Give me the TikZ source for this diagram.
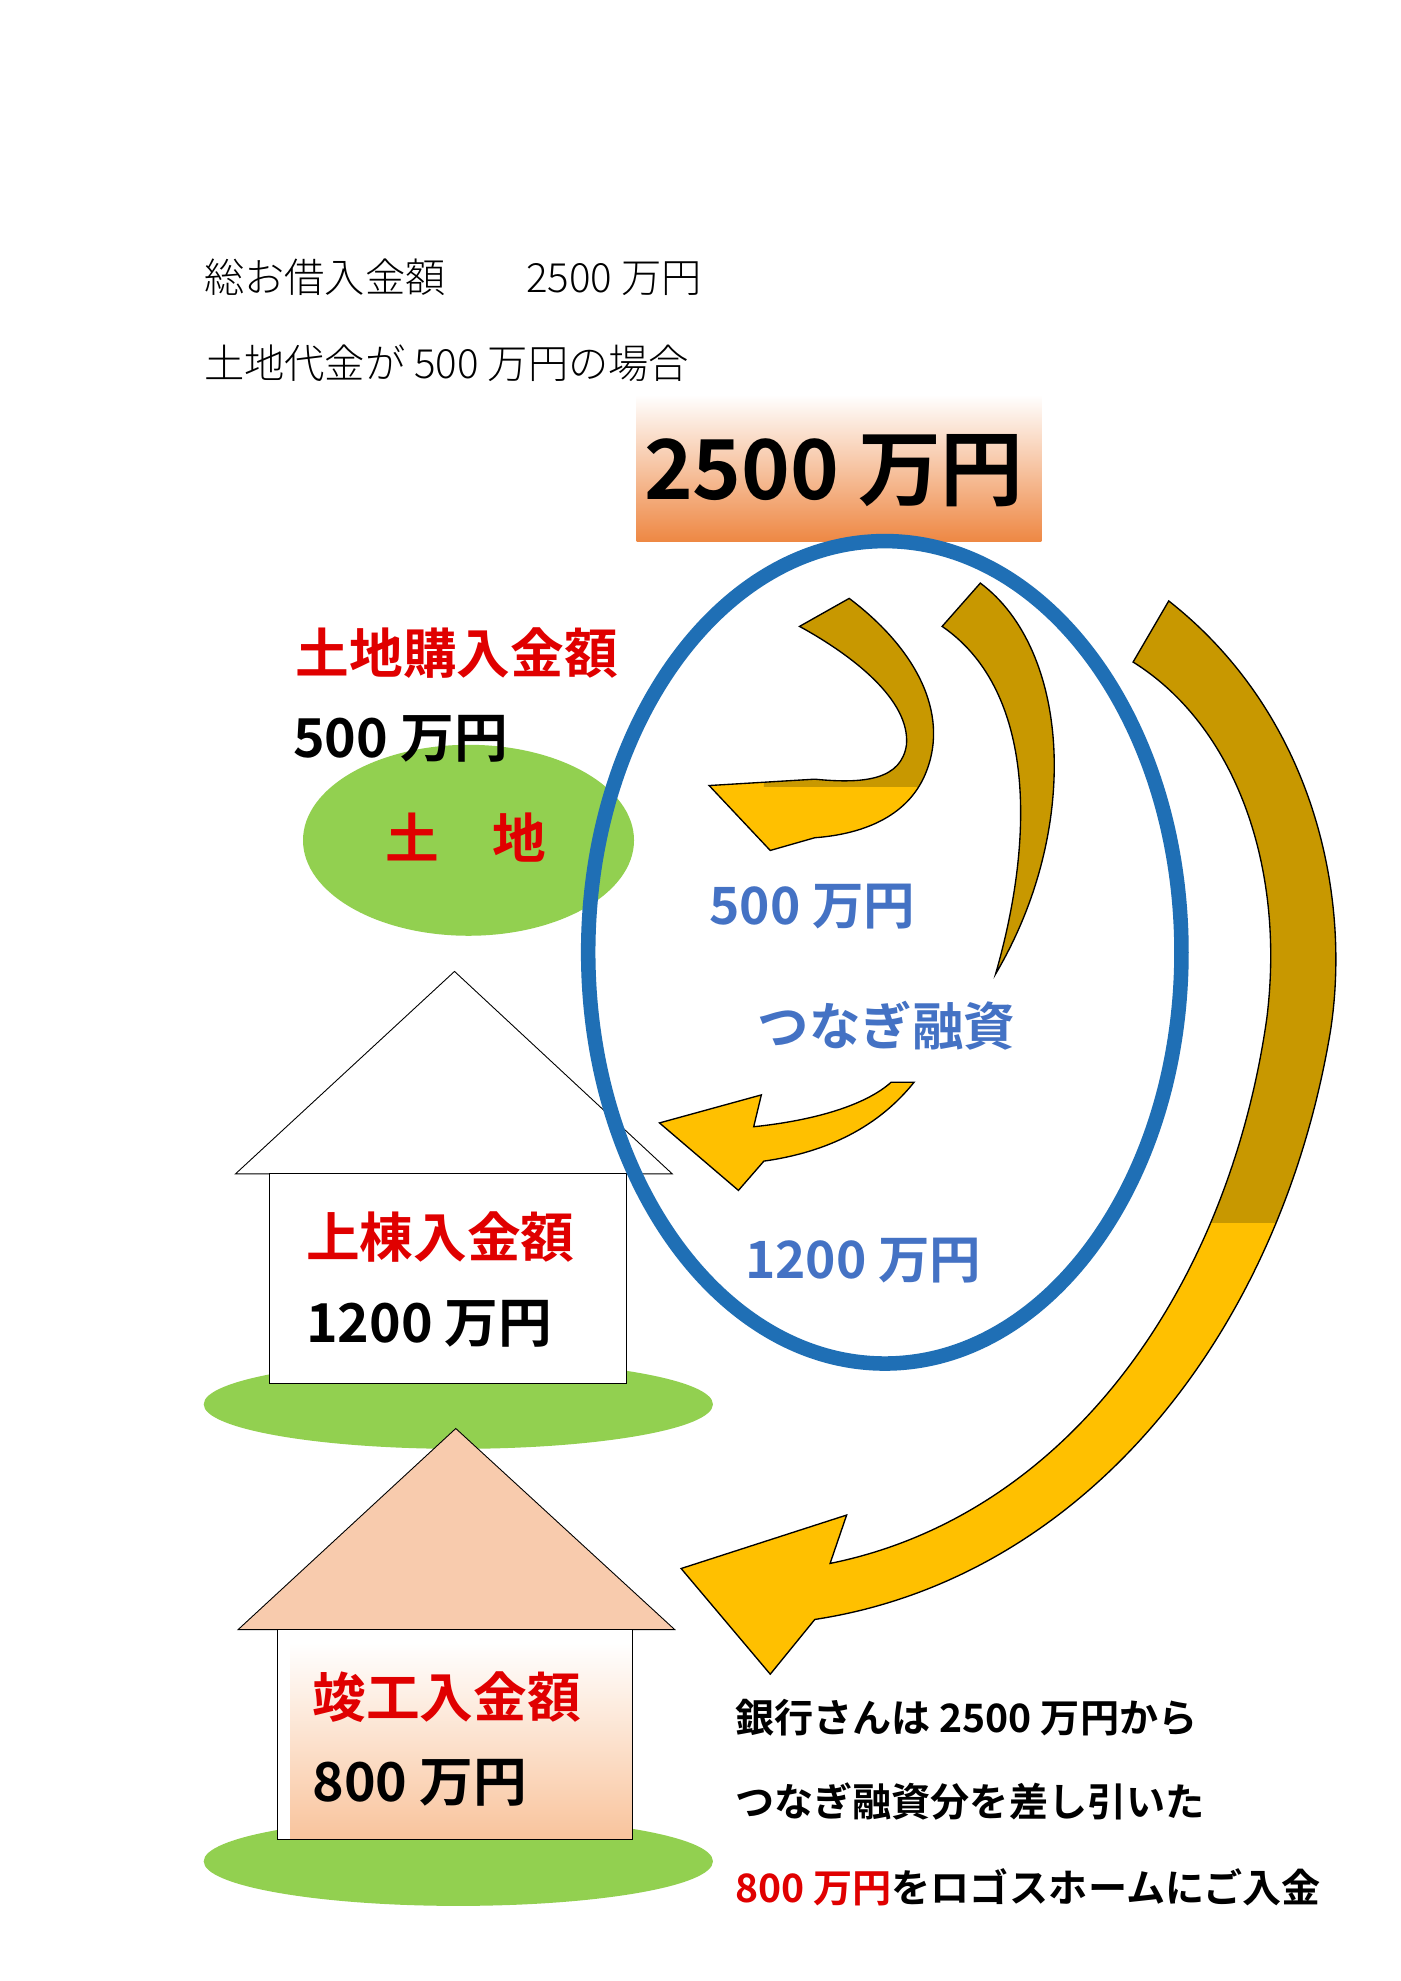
\documentclass[tikz,border=0pt]{standalone}
\usepackage{fontspec}
\setmainfont{Noto Sans CJK JP}
\newfontfamily\jb{Noto Sans CJK JP Bold}
\newfontfamily\jl{Noto Sans CJK JP Light}
\definecolor{gold}{HTML}{C89800}
\definecolor{yel}{HTML}{FFC000}
\definecolor{grn}{HTML}{92D050}
\definecolor{blu}{HTML}{1F6FB5}
\definecolor{btxt}{HTML}{4472C4}
\definecolor{redt}{HTML}{E00000}
\definecolor{peach}{HTML}{F8CBAD}
\definecolor{org}{HTML}{EE8844}
\begin{document}
\begin{tikzpicture}[x=0.02cm,y=-0.02cm,
  lbl/.style={anchor=west,inner sep=0pt,font=\jb\fontsize{24}{28}\selectfont},
  hdr/.style={anchor=west,inner sep=0pt,font=\jl\fontsize{18}{22}\selectfont},
  btm/.style={anchor=west,inner sep=0pt,font=\jb\fontsize{17.5}{22}\selectfont},
  bl/.style={anchor=west,inner sep=0pt,text=btxt,font=\jb\fontsize{23}{27}\selectfont}]
\useasboundingbox (0,0) rectangle (1100,1556);
\fill[white] (0,0) rectangle (1100,1556);
% header
\node[hdr] (h1) at (160,218) {総お借入金額　　2500 万円};
\node[hdr] (h2) at (160,285) {土地代金が 500 万円の場合};
% top box
\shade[top color=white,bottom color=org] (500,310) rectangle (818,425);
\node[inner sep=0pt,font=\jb\fontsize{37}{44}\selectfont] (top) at (655,370) {2500 万円};
% land
\fill[grn] (368,660) ellipse [x radius=130,y radius=75];
\node[lbl,text=redt] (l1) at (232,513) {土地購入金額};
\node[lbl] (l2) at (230,580) {500 万円};
\node[inner sep=0pt,text=redt,font=\jb\fontsize{24}{28}\selectfont] (land) at (366,658) {土　地};
% house 1
\fill[grn] (360,1103) ellipse [x radius=200,y radius=35];
\draw[fill=white] (185,922) -- (357,763) -- (528,922) -- cycle;
\draw[fill=white] (212,922) rectangle (492,1087);
\node[lbl,text=redt] (u1) at (240,972) {上棟入金額};
\node[lbl] (u2) at (240,1040) {1200 万円};
% house 2
\fill[grn] (360,1462) ellipse [x radius=200,y radius=35];
\draw[fill=peach] (187,1280) -- (358,1122) -- (530,1280) -- cycle;
\draw[fill=white] (218,1280) rectangle (497,1445);
\shade[top color=white,bottom color=peach!90!orange] (228,1290) rectangle (497,1445);
\draw (218,1280) -- (218,1445) -- (497,1445) -- (497,1280);
\node[lbl,text=redt] (k1) at (245,1333) {竣工入金額};
\node[lbl] (k2) at (245,1400) {800 万円};
% blue ellipse
\draw[blu,line width=6.5] (695,748) ellipse [x radius=233,y radius=323];
% arrow 1
\def\arA{(628,492) -- (667,470) .. controls (720,510) and (745,560) .. (728,605) .. controls (715,640) and (680,655) .. (640,658) -- (605,668) -- (557,617) -- (640,612) .. controls (680,616) and (708,612) .. (712,585) .. controls (715,550) and (670,515) .. (628,492) -- cycle}
\fill[yel] \arA;
\begin{scope}\clip (600,400) rectangle (800,618); \fill[gold] \arA; \end{scope}
\draw[line width=0.6] \arA;
% arrow 2 tail
\draw[fill=gold,line width=0.6] (740,492) -- (770,458) .. controls (840,510) and (850,650) .. (782,765) .. controls (815,650) and (810,540) .. (740,492) -- cycle;
% arrow 2 head
\draw[fill=yel,line width=0.6] (718,850) .. controls (690,885) and (650,905) .. (600,912) -- (580,935) -- (518,882) -- (598,860) -- (592,885) .. controls (640,880) and (680,868) .. (700,850) -- cycle;
% arrow 3
\def\arB{(890,520) -- (918,472) .. controls (1030,560) and (1062,700) .. (1045,810) .. controls (1005,1050) and (850,1240) .. (640,1272) -- (605,1315) -- (535,1232) -- (665,1190) -- (652,1228) .. controls (840,1190) and (965,1010) .. (995,800) .. controls (1010,680) and (970,570) .. (890,520) -- cycle}
\fill[yel] \arB;
\begin{scope}\clip (850,400) rectangle (1100,960); \fill[gold] \arB; \end{scope}
\draw[line width=0.6] \arB;
% blue texts
\node[bl] (b1) at (557,712) {500 万円};
\node[bl] (b2) at (595,806) {つなぎ融資};
\node[bl] (b3) at (585,990) {1200 万円};
% bottom texts
\node[btm] (t1) at (577,1349) {銀行さんは 2500 万円から};
\node[btm] (t2) at (577,1415) {つなぎ融資分を差し引いた};
\node[btm] (t3) at (577,1482) {\textcolor{redt}{800 万円}をロゴスホームにご入金};
\end{tikzpicture}
\end{document}
